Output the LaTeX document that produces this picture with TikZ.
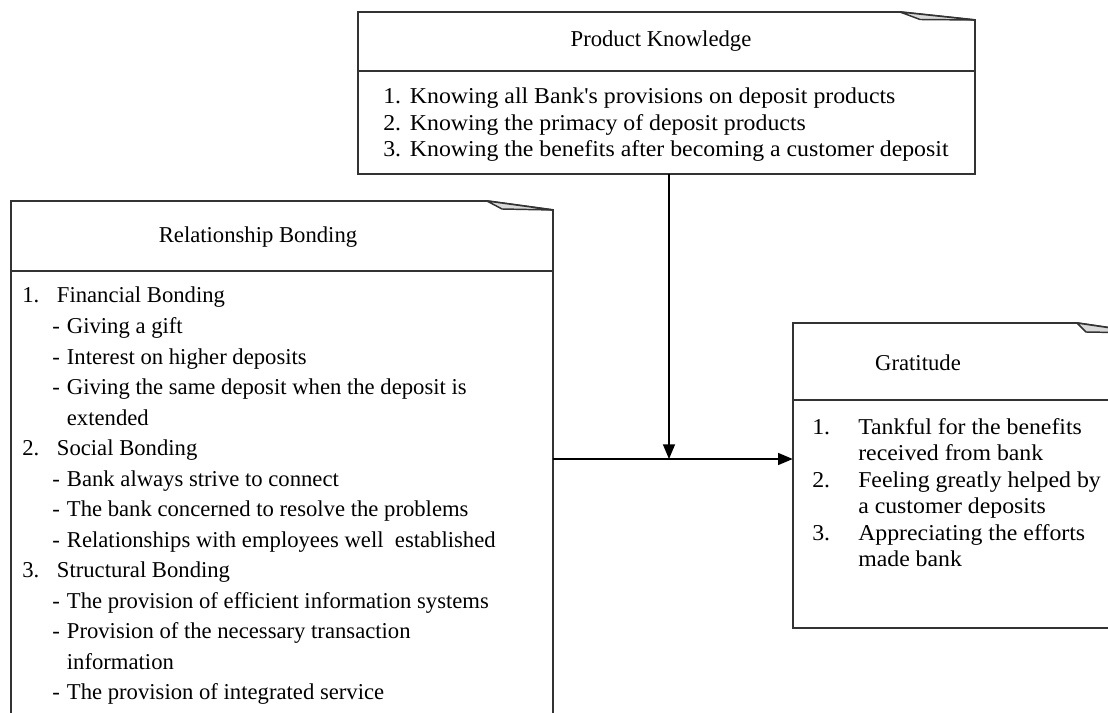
\documentclass[tikz,border=0pt]{standalone}
\usepackage{fontspec}
\setmainfont{Liberation Serif}
\newfontfamily\widefont[FakeStretch=1.05]{Liberation Serif}
\usetikzlibrary{arrows.meta,fit}
\newcommand\Lbl[2]{\makebox[#1][l]{#2}}
\begin{document}
\begin{tikzpicture}[x=0.75pt,y=-0.75pt,
  boxline/.style={draw=black!80,line width=1.4pt,line join=miter},
  foldfill/.style={draw=black!80,line width=1.1pt,fill=black!15,line join=round},
  conn/.style={draw=black,line width=1.1pt,-{Triangle[length=11pt,width=9pt]}},
  txt/.style={anchor=base west,inner sep=0pt,font=\fontsize{17pt}{20pt}\selectfont},
  wtxt/.style={anchor=base west,inner sep=0pt,font=\widefont\fontsize{17pt}{20pt}\selectfont},
  head/.style={anchor=center,inner sep=0pt,font=\fontsize{17pt}{20pt}\selectfont}]
\useasboundingbox (0,0) rectangle (1108,713);
\fill[white] (0,0) rectangle (1108,713);

% ---------- Product Knowledge ----------
\node[fit={(358,12) (975,174)},inner sep=0pt] (pk) {};
\draw[boxline] (358,71) -- (358,12) -- (900,12) -- (975,20) -- (975,174) -- (358,174) -- cycle;
\draw[foldfill] (900,12) -- (920,19.5) -- (975,20) -- cycle;
\draw[boxline] (358,71) -- (975,71);
\node[head] (pkh) at (661,41) {Product Knowledge};
\node[wtxt] (pk1) at (383,104) {\Lbl{20pt}{1.}Knowing all Bank's provisions on deposit products};
\node[wtxt] (pk2) at (383,130.5) {\Lbl{20pt}{2.}Knowing the primacy of deposit products};
\node[wtxt] (pk3) at (383,157) {\Lbl{20pt}{3.}Knowing the benefits after becoming a customer deposit};

% ---------- Relationship Bonding ----------
\node[fit={(11,201) (553,760)},inner sep=0pt] (rb) {};
\draw[boxline] (11,760) -- (11,201) -- (487,201) -- (553,210) -- (553,760);
\draw[foldfill] (487,201) -- (502,209) -- (553,210) -- cycle;
\draw[boxline] (11,271) -- (553,271);
\node[head] (rbh) at (258,237) {Relationship Bonding};
\node[txt] (rb1) at (22,303) {\Lbl{26pt}{1.}Financial Bonding};
\node[txt] (rb2) at (22,333.5) {\hspace{22.5pt}\Lbl{11pt}{-}Giving a gift};
\node[txt] (rb3) at (22,364) {\hspace{22.5pt}\Lbl{11pt}{-}Interest on higher deposits};
\node[txt] (rb4) at (22,394.5) {\hspace{22.5pt}\Lbl{11pt}{-}Giving the same deposit when the deposit is};
\node[txt] (rb5) at (22,425) {\hspace{33.5pt}extended};
\node[txt] (rb6) at (22,455.5) {\Lbl{26pt}{2.}Social Bonding};
\node[txt] (rb7) at (22,486) {\hspace{22.5pt}\Lbl{11pt}{-}Bank always strive to connect};
\node[txt] (rb8) at (22,516.5) {\hspace{22.5pt}\Lbl{11pt}{-}The bank concerned to resolve the problems};
\node[txt] (rb9) at (22,547) {\hspace{22.5pt}\Lbl{11pt}{-}Relationships with employees well\ \ established};
\node[txt] (rb10) at (22,577.5) {\Lbl{26pt}{3.}Structural Bonding};
\node[txt] (rb11) at (22,608) {\hspace{22.5pt}\Lbl{11pt}{-}The provision of efficient information systems};
\node[txt] (rb12) at (22,638.5) {\hspace{22.5pt}\Lbl{11pt}{-}Provision of the necessary transaction};
\node[txt] (rb13) at (22,669) {\hspace{33.5pt}information};
\node[txt] (rb14) at (22,699.5) {\hspace{22.5pt}\Lbl{11pt}{-}The provision of integrated service};

% ---------- Gratitude ----------
\node[fit={(793,323) (1145,628)},inner sep=0pt] (gr) {};
\draw[boxline] (793,400) -- (793,323) -- (1077,323) -- (1145,333) -- (1145,628) -- (793,628) -- cycle;
\draw[foldfill] (1077,323) -- (1086,332) -- (1145,333) -- cycle;
\draw[boxline] (793,400) -- (1145,400);
\node[head] (grh) at (918,363) {Gratitude};
\node[wtxt] (gr1) at (812,434) {\Lbl{34.5pt}{1.}Tankful for the benefits};
\node[wtxt] (gr2) at (812,460.5) {\hspace{34.5pt}received from bank};
\node[wtxt] (gr3) at (812,487) {\Lbl{34.5pt}{2.}Feeling greatly helped by};
\node[wtxt] (gr4) at (812,513.5) {\hspace{34.5pt}a customer deposits};
\node[wtxt] (gr5) at (812,540) {\Lbl{34.5pt}{3.}Appreciating the efforts};
\node[wtxt] (gr6) at (812,566.5) {\hspace{34.5pt}made bank};

% ---------- connectors ----------
\coordinate (j) at (669,459);
\draw[conn] (pk.south -| j) -- (j);
\draw[conn] (rb.east |- j) -- (gr.west |- j);
\end{tikzpicture}
\end{document}
